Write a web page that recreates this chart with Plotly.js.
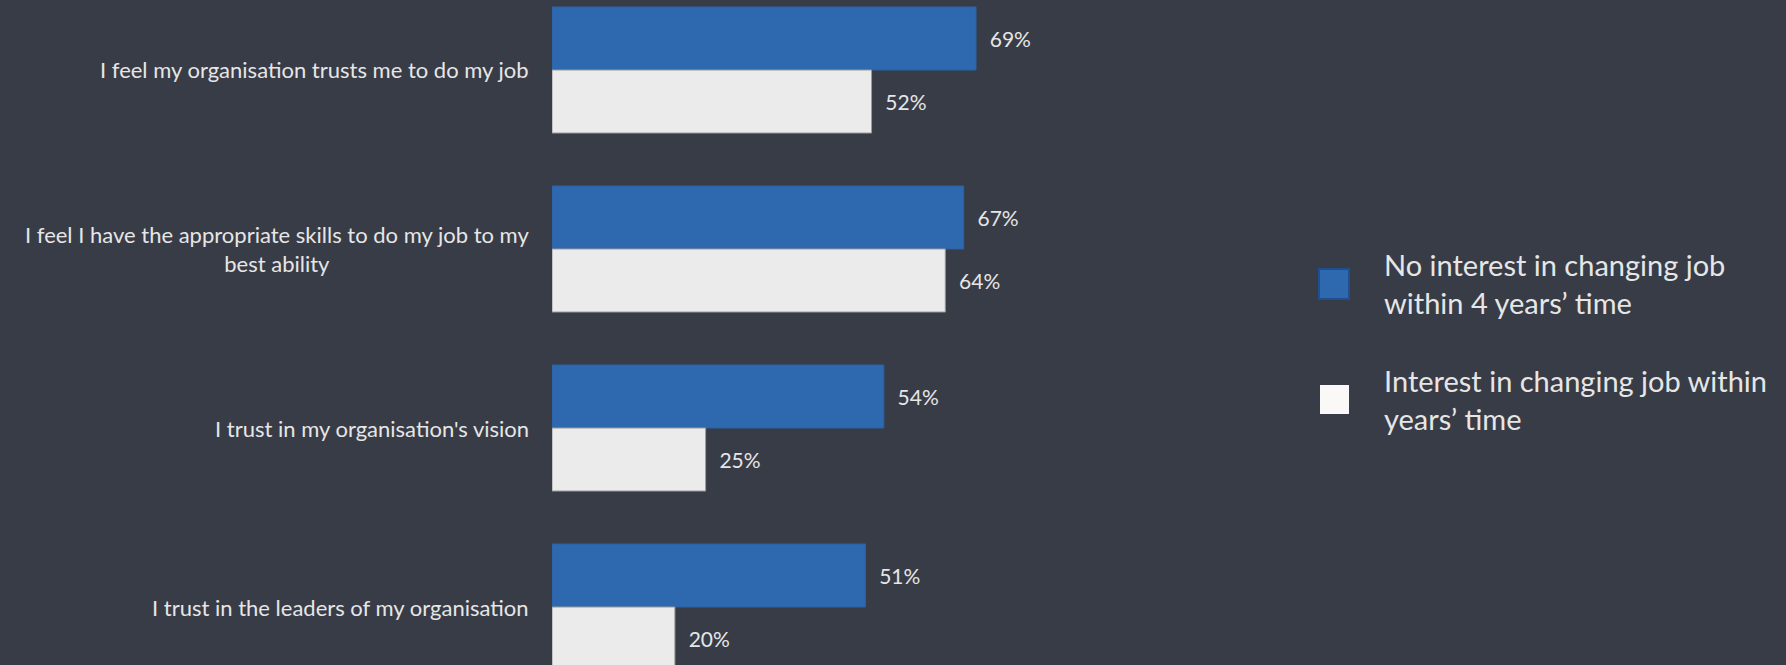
<!DOCTYPE html>
<html>
<head>
<meta charset="utf-8">
<script src="https://cdn.plot.ly/plotly-3.0.1.min.js"></script>
<style>
  html, body { margin: 0; padding: 0; background: #383c46; }
  #chart { width: 1786px; height: 665px; }
</style>
</head>
<body>
<div id="chart"></div>
<script>
// ---- data ----
const categories = [
  "I feel my organisation trusts me to do my job",
  "I feel I have the appropriate skills to do my job to my<br>best ability",
  "I trust in my organisation's vision",
  "I trust in the leaders of my organisation"
];
const noInterestValues = [69, 67, 54, 51];
const interestValues = [52, 64, 25, 20];
const seriesNames = [
  "No interest in changing job<br>within 4 years\u2019 time",
  "Interest in changing job within<br>years\u2019 time"
];

// ---- style ----
const W = 1786, H = 665;
const BG = "#383c46";
const TXT = "#e6e6e6";
const BLUE = "#2e69af";
const LIGHT = "#ebebeb";
const FONT = "Lato, 'Liberation Sans', sans-serif";
const PAD = "\u00a0\u00a0";

const traces = [
  {
    type: "bar", orientation: "h", name: seriesNames[0],
    y: categories, x: noInterestValues,
    text: noInterestValues.map(v => PAD + v + "%"),
    textposition: "outside", cliponaxis: false, constraintext: "none",
    outsidetextfont: { family: FONT, size: 21, color: TXT },
    marker: { color: BLUE, line: { color: "#2b62a4", width: 1 } },
    hoverinfo: "none"
  },
  {
    type: "bar", orientation: "h", name: seriesNames[1],
    y: categories, x: interestValues,
    text: interestValues.map(v => PAD + v + "%"),
    textposition: "outside", cliponaxis: false, constraintext: "none",
    outsidetextfont: { family: FONT, size: 21, color: TXT },
    marker: { color: LIGHT, line: { color: "#9a9a9a", width: 1 } },
    hoverinfo: "none"
  }
];

const annotations = categories.map(c => ({
  xref: "paper", yref: "y", x: 531 / W, y: c,
  xanchor: "right", yanchor: "middle", align: "center",
  text: c, showarrow: false,
  font: { family: FONT, size: 22, color: TXT }
}));

// legend (drawn as shapes + text)
const legendRows = [
  { top: 269, bottom: 299, left: 1319, right: 1349, fill: BLUE, line: { color: "#1f4f8f", width: 2 }, name: seriesNames[0] },
  { top: 385, bottom: 414, left: 1320, right: 1349, fill: "#fbf9f7", line: { width: 0 }, name: seriesNames[1] }
];
const shapes = legendRows.map(r => ({
  type: "rect", xref: "paper", yref: "paper",
  x0: r.left / W, x1: r.right / W, y0: 1 - r.bottom / H, y1: 1 - r.top / H,
  fillcolor: r.fill, line: r.line
}));
legendRows.forEach(r => {
  annotations.push({
    xref: "paper", yref: "paper", x: 1382 / W, y: 1 - ((r.top + r.bottom) / 2) / H,
    xanchor: "left", yanchor: "middle", align: "left",
    text: r.name, showarrow: false,
    font: { family: FONT, size: 29, color: TXT }
  });
});

const layout = {
  width: W, height: H,
  margin: { l: 0, r: 0, t: 0, b: 0, pad: 0 },
  paper_bgcolor: BG, plot_bgcolor: BG,
  font: { family: FONT, color: TXT },
  showlegend: false,
  barmode: "group", bargap: 0.296, bargroupgap: 0,
  xaxis: {
    domain: [552 / W, 1166.5 / W], range: [0, 100],
    visible: false, showgrid: false, zeroline: false, fixedrange: true
  },
  yaxis: {
    type: "category", range: [3.324, -0.391], domain: [0, 1],
    visible: false, showgrid: false, zeroline: false, fixedrange: true
  },
  annotations: annotations,
  shapes: shapes
};

Plotly.newPlot("chart", traces, layout, { displayModeBar: false, staticPlot: true });
</script>
</body>
</html>
